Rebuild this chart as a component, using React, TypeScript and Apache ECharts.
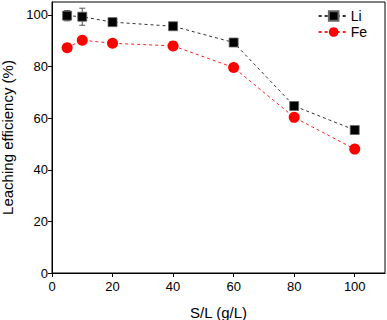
import React, { useEffect, useRef } from "react";
import * as echarts from "echarts";

const xValues = [5, 10, 20, 40, 60, 80, 100];
const liValues = [99.7, 99.3, 97.2, 95.6, 89.3, 64.7, 55.4];
const feValues = [87.3, 90.2, 89.0, 88.0, 79.6, 60.3, 48.0];
const liErrors = [2.0, 3.3, 0, 0, 0, 0, 0];

const FONT = "Liberation Sans, Arial, sans-serif";

export default function App() {
  const ref = useRef<HTMLDivElement>(null);
  useEffect(() => {
    if (!ref.current) return;
    const chart = echarts.init(ref.current, null, { renderer: "svg" });
    const liData = xValues.map((x, i) => [x, liValues[i]]);
    const feData = xValues.map((x, i) => [x, feValues[i]]);
    const errData = xValues
      .map((x, i) => [x, liValues[i] - liErrors[i], liValues[i] + liErrors[i]])
      .filter((d, i) => liErrors[i] > 0);
    chart.setOption({
      animation: false,
      textStyle: { fontFamily: FONT },
      grid: {
        left: 52,
        right: 2,
        top: 2,
        bottom: 47,
        containLabel: false,
        outerBoundsMode: "none",
        show: true,
        borderColor: "#000",
        borderWidth: 1,
        backgroundColor: "transparent",
      },
      legend: {
        right: 15,
        top: 4,
        orient: "vertical",
        itemWidth: 30,
        itemHeight: 12,
        itemGap: 2,
        textStyle: { fontFamily: FONT, fontSize: 14, color: "#000", padding: [0, 0, 0, -3] },
        data: ["Li", "Fe"],
      },
      xAxis: {
        type: "value",
        min: 0,
        max: 110,
        interval: 20,
        name: "S/L (g/L)",
        nameLocation: "middle",
        nameGap: 32,
        nameTextStyle: { fontFamily: FONT, fontSize: 15, color: "#000" },
        axisLine: { lineStyle: { color: "#000", width: 1 } },
        axisTick: { show: true, inside: false, length: 4, lineStyle: { color: "#000" } },
        axisLabel: {
          fontFamily: FONT,
          fontSize: 13,
          color: "#000",
          margin: 7,
          showMaxLabel: false,
          formatter: (v: number) => (v % 20 === 0 ? String(v) : ""),
        },
        splitLine: { show: false },
      },
      yAxis: {
        type: "value",
        min: 0,
        max: 105,
        interval: 20,
        name: "Leaching efficiency (%)",
        nameLocation: "middle",
        nameGap: 36,
        nameTextStyle: { fontFamily: FONT, fontSize: 15, color: "#000" },
        axisLine: { show: true, lineStyle: { color: "#000", width: 1 } },
        axisTick: { show: true, inside: false, length: 4, lineStyle: { color: "#000" } },
        axisLabel: {
          fontFamily: FONT,
          fontSize: 13,
          color: "#000",
          margin: 4,
          showMaxLabel: false,
          formatter: (v: number) => (v % 20 === 0 ? String(v) : ""),
        },
        splitLine: { show: false },
      },
      series: [
        {
          type: "custom",
          name: "errLi",
          z: 1,
          renderItem: (params: any, api: any) => {
            const x = api.value(0);
            const lo = api.coord([x, api.value(1)]);
            const hi = api.coord([x, api.value(2)]);
            const cw = 3;
            const st = { stroke: "#555", lineWidth: 1 };
            return {
              type: "group",
              children: [
                { type: "line", shape: { x1: lo[0], y1: lo[1], x2: hi[0], y2: hi[1] }, style: st },
                { type: "line", shape: { x1: lo[0] - cw, y1: lo[1], x2: lo[0] + cw, y2: lo[1] }, style: st },
                { type: "line", shape: { x1: hi[0] - cw, y1: hi[1], x2: hi[0] + cw, y2: hi[1] }, style: st },
              ],
            };
          },
          data: errData,
          silent: true,
        },
        {
          type: "line",
          name: "Li",
          data: liData,
          symbol: "rect",
          symbolSize: 9,
          z: 3,
          lineStyle: { color: "#333", width: 1, type: [3, 3] },
          itemStyle: { color: "#000", borderColor: "#666", borderWidth: 0.8 },
        },
        {
          type: "line",
          name: "Fe",
          data: feData,
          symbol: "circle",
          symbolSize: 11,
          z: 3,
          lineStyle: { color: "#ff2020", width: 1, type: [3, 3] },
          itemStyle: { color: "#ff0000", borderColor: "#ff0000", borderWidth: 0 },
        },
      ],
    });
    return () => chart.dispose();
  }, []);
  return <div ref={ref} style={{ width: 387, height: 320, position: "absolute", left: 0, top: 0 }} />;
}
